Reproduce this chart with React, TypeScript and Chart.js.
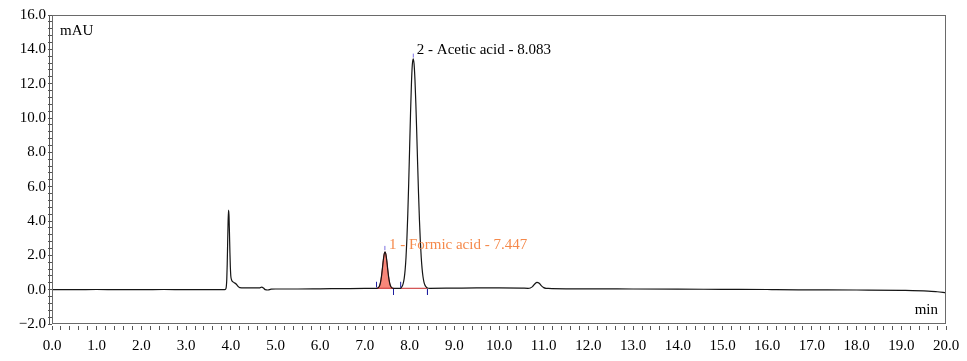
import { useEffect, useRef } from 'react';
import { Chart, registerables } from 'chart.js';
Chart.register(...registerables);

// Chromatogram trace (retention time in min, signal in mAU)
const times = [
  0.0, 0.5, 1.0, 1.5, 2.0, 2.5, 3.0, 3.5, 3.86, 3.89,
  3.9, 3.91, 3.92, 3.93, 3.94, 3.95, 3.96, 3.97, 3.98, 3.99,
  4.0, 4.02, 4.05, 4.08, 4.12, 4.16, 4.2, 4.3, 4.5, 4.64,
  4.69, 4.73, 4.77, 4.83, 4.9, 5.0, 5.5, 6.0, 6.5, 7.0, 7.27,
  7.29, 7.31, 7.33, 7.35, 7.37, 7.39, 7.41, 7.43, 7.45, 7.47,
  7.49, 7.51, 7.53, 7.55, 7.57, 7.59, 7.61, 7.64, 7.7, 7.78,
  7.8, 7.82, 7.84, 7.86, 7.88, 7.9, 7.92, 7.94, 7.96, 7.98,
  8.0, 8.02, 8.04, 8.06, 8.08, 8.1, 8.12, 8.14, 8.16, 8.18,
  8.2, 8.22, 8.24, 8.26, 8.28, 8.3, 8.32, 8.34, 8.36, 8.38,
  8.4, 8.45, 9.0, 9.5, 10.0, 10.5, 10.65, 10.7, 10.75, 10.8,
  10.85, 10.9, 10.95, 11.0, 11.05, 11.1, 11.5, 12.0, 13.0, 14.0,
  15.0, 16.0, 16.2, 17.0, 18.0, 19.0, 19.6, 19.8, 20.0,
];
const mAU = [
  0.0, 0.0, 0.01, 0.0, 0.0, 0.01, 0.0, 0.0, 0.0, 0.05,
  0.2, 0.6, 1.5, 2.8, 4.0, 4.64, 4.3, 3.3, 2.2, 1.3,
  0.8, 0.55, 0.45, 0.4, 0.33, 0.2, 0.12, 0.1, 0.1, 0.1,
  0.15, 0.1, 0.0, -0.02, 0.03, 0.04, 0.04, 0.05, 0.06, 0.07, 0.08,
  0.1, 0.14, 0.24, 0.44, 0.76, 1.2, 1.68, 2.06, 2.21, 2.06,
  1.68, 1.2, 0.76, 0.44, 0.24, 0.14, 0.1, 0.08, 0.08, 0.08,
  0.09, 0.15, 0.23, 0.39, 0.67, 1.15, 1.89, 2.98, 4.43, 6.21,
  8.21, 10.19, 11.91, 13.07, 13.45, 13.15, 12.22, 10.81, 9.11, 7.31,
  5.59, 4.07, 2.84, 1.89, 1.21, 0.75, 0.46, 0.29, 0.19, 0.13,
  0.1, 0.08, 0.09, 0.1, 0.1, 0.09, 0.08, 0.1, 0.18, 0.33,
  0.43, 0.37, 0.22, 0.12, 0.08, 0.07, 0.05, 0.05, 0.04, 0.03,
  0.02, 0.01, 0.0, -0.01, -0.02, -0.04, -0.08, -0.12, -0.17,
];

// Integrated peaks
const peakNames = ['1 - Formic acid - 7.447', '2 - Acetic acid - 8.083'];
const peakRT = [7.447, 8.083];
const peakHeight = [2.21, 13.45];
const peakStart = [7.26, 7.8];
const peakEnd = [7.64, 8.4];
const peakBaseline = [0.08, 0.08];
const apexTickLow = [2.3, 13.52];
const apexTickHigh = [2.55, 13.75];

// Axis ranges / tick labels
const xMin = 0, xMax = 20, xStep = 0.2;
const yMin = -2, yMax = 16, yStep = 0.4;
const yUnit = 'mAU';
const xUnit = 'min';

const SERIF = '"Liberation Serif", "Times New Roman", serif';
const labelColors = ['#F5894B', '#000000'];
const labelOffsets = [{ dx: 4, dy: -2.5 }, { dx: 3.5, dy: -5 }];

export default function App() {
  const ref = useRef<HTMLCanvasElement>(null);
  useEffect(() => {
    document.body.style.margin = '0';
    const trace = times.map((t, i) => ({ x: t, y: mAU[i] }));
    const formicFill = trace.filter((p) => p.x >= peakStart[0] && p.x <= peakEnd[0]);

    const edgeTicks: any[] = [];
    peakStart.forEach((s, i) => {
      const b = peakBaseline[i];
      edgeTicks.push({ x: s, y: b + 0.05 }, { x: s, y: b + 0.38 }, { x: s, y: null });
      edgeTicks.push({ x: peakEnd[i], y: b - 0.05 }, { x: peakEnd[i], y: b - 0.38 }, { x: peakEnd[i], y: null });
    });
    const apexTicks: any[] = [];
    peakRT.forEach((rt, i) => {
      apexTicks.push({ x: rt, y: apexTickLow[i] }, { x: rt, y: apexTickHigh[i] }, { x: rt, y: null });
    });
    const baseLines: any[] = [];
    peakStart.forEach((s, i) => {
      baseLines.push({ x: s, y: peakBaseline[i] }, { x: peakEnd[i], y: peakBaseline[i] }, { x: peakEnd[i], y: null });
    });

    const annot = {
      id: 'annot',
      afterDatasetsDraw(chart: any) {
        const { ctx, chartArea: a, scales } = chart;
        const xs = scales.x, ys = scales.y;
        ctx.save();
        ctx.strokeStyle = '#6a6a6a';
        ctx.lineWidth = 1;
        ctx.strokeRect(a.left + 0.5, a.top + 0.5, a.right - a.left - 1, a.bottom - a.top - 1);
        ctx.strokeStyle = '#555';
        ctx.beginPath();
        ctx.moveTo(a.left - 2.5, a.top);
        ctx.lineTo(a.left - 2.5, a.bottom);
        ctx.stroke();
        ctx.font = '15px ' + SERIF;
        ctx.fillStyle = '#000';
        ctx.textBaseline = 'alphabetic';
        ctx.textAlign = 'left';
        ctx.fillText(yUnit, a.left + 8, a.top + 20);
        ctx.textAlign = 'right';
        ctx.fillText(xUnit, a.right - 8, a.bottom - 10);
        ctx.textAlign = 'left';
        peakNames.forEach((name, i) => {
          const px = xs.getPixelForValue(peakRT[i]) + labelOffsets[i].dx;
          const py = ys.getPixelForValue(peakHeight[i]) + labelOffsets[i].dy;
          ctx.fillStyle = labelColors[i];
          ctx.fillText(name, px, py);
        });
        ctx.restore();
      },
    };

    const isMultiple = (v: number, m: number) => {
      const r = v / m;
      return Math.abs(r - Math.round(r)) < 1e-6;
    };
    const fmt = (v: number) => {
      const r = Math.round(v * 10) / 10;
      const s = Math.abs(r).toFixed(1);
      return r < 0 ? '\u2212' + s : s;
    };

    const chart = new Chart(ref.current!, {
      type: 'line',
      data: {
        datasets: [
          { data: apexTicks, borderColor: '#7a6fe0', borderWidth: 1, pointRadius: 0, spanGaps: false },
          { data: edgeTicks, borderColor: '#1f1fa0', borderWidth: 1, pointRadius: 0, spanGaps: false },
          {
            data: trace, borderColor: '#151515', borderWidth: 1.2, pointRadius: 0,
            cubicInterpolationMode: 'monotone',
          },
          { data: baseLines, borderColor: '#c8282a', borderWidth: 1, pointRadius: 0, spanGaps: false },
          {
            data: formicFill, borderColor: '#d9453c', borderWidth: 1, pointRadius: 0,
            backgroundColor: '#F8877A', fill: { value: peakBaseline[0] },
            cubicInterpolationMode: 'monotone',
          },
        ] as any,
      },
      options: {
        responsive: false,
        animation: false,
        devicePixelRatio: 1,
        layout: { padding: { left: 0, top: 15, right: 21, bottom: 0 } },
        plugins: { legend: { display: false }, tooltip: { enabled: false } },
        scales: {
          x: {
            type: 'linear',
            min: xMin,
            max: xMax,
            afterFit: (s: any) => { s.height = 37; },
            border: { display: false },
            grid: { drawOnChartArea: false, tickLength: 6, tickColor: '#555', tickBorderDash: [0, 2, 4] } as any,
            ticks: {
              stepSize: xStep,
              autoSkip: false,
              maxRotation: 0,
              minRotation: 0,
              padding: 7,
              color: '#000',
              font: { family: SERIF, size: 15 },
              callback: (v: any) => (isMultiple(Number(v), 1) ? fmt(Number(v)) : ''),
            },
          },
          y: {
            type: 'linear',
            min: yMin,
            max: yMax,
            afterFit: (s: any) => { s.width = 52; },
            border: { display: false },
            grid: { drawOnChartArea: false, tickLength: 5, tickColor: '#555', tickBorderDash: [0, 1, 4] } as any,
            ticks: {
              stepSize: yStep,
              autoSkip: false,
              padding: 1,
              color: '#000',
              font: { family: SERIF, size: 15 },
              callback: (v: any) => (isMultiple(Number(v), 2) ? fmt(Number(v)) : ''),
            },
          },
        },
      },
      plugins: [annot],
    });
    return () => chart.destroy();
  }, []);
  return (
    <div style={{ width: 967, height: 361 }}>
      <canvas ref={ref} width={967} height={361} style={{ display: 'block' }} />
    </div>
  );
}
